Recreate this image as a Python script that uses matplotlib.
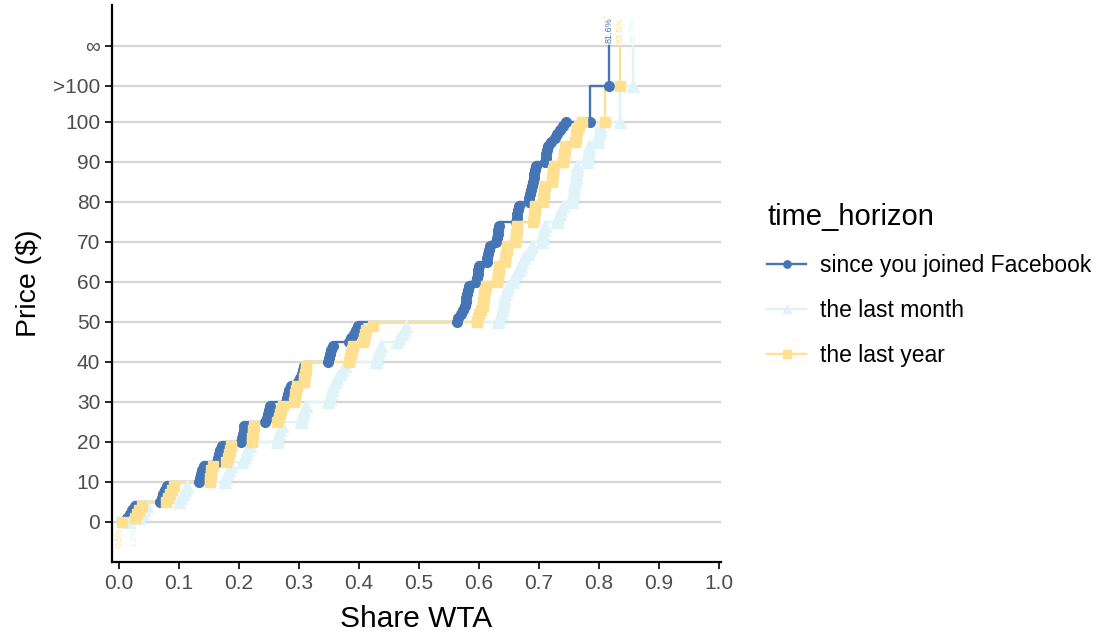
import matplotlib
matplotlib.use('Agg')
import matplotlib.pyplot as plt
from matplotlib.lines import Line2D

plt.rcParams['font.family'] = ['Liberation Sans', 'DejaVu Sans']

# y positions used for the two non-numeric price levels
GT100 = 109
INF = 119

y_ticks = [0, 10, 20, 30, 40, 50, 60, 70, 80, 90, 100, GT100, INF]
y_labels = ['0', '10', '20', '30', '40', '50', '60', '70', '80', '90', '100', '>100', '\u221e']
x_ticks = [0.0, 0.1, 0.2, 0.3, 0.4, 0.5, 0.6, 0.7, 0.8, 0.9, 1.0]

# price levels 0..100 (dollars)
prices = list(range(0, 101))

# share of respondents with WTA <= price
fb_share = [0.006,
            0.013, 0.018, 0.022, 0.026,
            0.068, 0.071, 0.074, 0.077, 0.080,
            0.133, 0.135, 0.137, 0.139, 0.141,
            0.163, 0.165, 0.167, 0.169, 0.171,
            0.203, 0.205, 0.206, 0.208, 0.209,
            0.244, 0.246, 0.248, 0.250, 0.252,
            0.278, 0.280, 0.282, 0.284, 0.286,
            0.299, 0.302, 0.305, 0.307, 0.309,
            0.348, 0.350, 0.352, 0.354, 0.356,
            0.383, 0.387, 0.391, 0.395, 0.399,
            0.563, 0.565, 0.570, 0.573, 0.576,
            0.578, 0.579, 0.580, 0.581, 0.583,
            0.595, 0.597, 0.598, 0.599, 0.600,
            0.613, 0.614, 0.615, 0.616, 0.618,
            0.628, 0.630, 0.631, 0.632, 0.633,
            0.662, 0.663, 0.664, 0.665, 0.666,
            0.683, 0.684, 0.685, 0.686, 0.688,
            0.690, 0.691, 0.692, 0.693, 0.695,
            0.710, 0.711, 0.712, 0.713, 0.715,
            0.720, 0.726, 0.730, 0.735, 0.740,
            0.745]

month_share = [0.016,
               0.033, 0.038, 0.042, 0.047,
               0.100, 0.103, 0.106, 0.110, 0.114,
               0.176, 0.178, 0.180, 0.183, 0.186,
               0.205, 0.208, 0.211, 0.214, 0.218,
               0.263, 0.265, 0.267, 0.269, 0.271,
               0.303, 0.305, 0.307, 0.309, 0.311,
               0.349, 0.351, 0.353, 0.355, 0.357,
               0.360, 0.364, 0.368, 0.372, 0.376,
               0.428, 0.430, 0.432, 0.434, 0.436,
               0.463, 0.467, 0.471, 0.475, 0.479,
               0.632, 0.634, 0.636, 0.638, 0.640,
               0.641, 0.642, 0.644, 0.646, 0.648,
               0.657, 0.659, 0.662, 0.667, 0.670,
               0.672, 0.675, 0.682, 0.685, 0.688,
               0.705, 0.706, 0.707, 0.709, 0.710,
               0.730, 0.732, 0.735, 0.737, 0.740,
               0.755, 0.756, 0.757, 0.758, 0.759,
               0.760, 0.761, 0.762, 0.763, 0.764,
               0.780, 0.781, 0.782, 0.783, 0.784,
               0.798, 0.799, 0.800, 0.801, 0.802,
               0.835]

year_share = [0.005,
              0.027, 0.030, 0.034, 0.038,
              0.079, 0.082, 0.085, 0.088, 0.091,
              0.151, 0.152, 0.153, 0.154, 0.156,
              0.179, 0.181, 0.183, 0.185, 0.187,
              0.221, 0.222, 0.223, 0.224, 0.225,
              0.264, 0.266, 0.268, 0.270, 0.273,
              0.292, 0.293, 0.294, 0.295, 0.296,
              0.308, 0.309, 0.310, 0.311, 0.312,
              0.384, 0.385, 0.387, 0.388, 0.390,
              0.407, 0.408, 0.410, 0.412, 0.423,
              0.597, 0.598, 0.600, 0.604, 0.606,
              0.607, 0.608, 0.609, 0.610, 0.611,
              0.630, 0.631, 0.632, 0.633, 0.634,
              0.643, 0.644, 0.645, 0.646, 0.647,
              0.660, 0.661, 0.662, 0.663, 0.664,
              0.690, 0.691, 0.692, 0.693, 0.694,
              0.706, 0.707, 0.708, 0.709, 0.710,
              0.721, 0.722, 0.723, 0.724, 0.725,
              0.740, 0.741, 0.742, 0.743, 0.744,
              0.760, 0.761, 0.762, 0.764, 0.766,
              0.772]

# extra points at the top (second 100 point and ">100")
fb_top_share = [0.785, 0.817]
fb_top_price = [100, GT100]
month_top_share = [0.857]
month_top_price = [GT100]
year_top_share = [0.810, 0.835]
year_top_price = [100, GT100]

# share at infinity (label at top) and labels at price 0 (bottom)
fb_inf, month_inf, year_inf = 0.817, 0.857, 0.835
fb_inf_lab, month_inf_lab, year_inf_lab = '81.6%', '85.7%', '83.5%'
month_zero_lab, year_zero_lab = '1.2%', '0.5%'

c_fb = '#4575b4'
c_month = '#e0f3f8'
c_year = '#fee090'

fig = plt.figure(figsize=(11.03, 6.39), dpi=100)
ax = fig.add_axes([0.1015, 0.1205, 0.552, 0.872])

series = [
    ('since you joined Facebook', fb_share, fb_top_share, fb_top_price, c_fb, 'o', 7.0, fb_inf, fb_inf_lab),
    ('the last month', month_share, month_top_share, month_top_price, c_month, '^', 8.5, month_inf, month_inf_lab),
    ('the last year', year_share, year_top_share, year_top_price, c_year, 's', 7.8, year_inf, year_inf_lab),
]

# lines first (all groups), then points, like ggplot layers
for name, sh, tsh, tpr, col, mk, ms, xinf, lab in series:
    xs = sh + tsh
    ys = prices + tpr
    ax.plot(xs, ys, drawstyle='steps-pre', color=col, lw=1.7, zorder=2)
    ax.plot([xinf, xinf], [GT100, INF], color=col, lw=1.7, zorder=2)

for i, (name, sh, tsh, tpr, col, mk, ms, xinf, lab) in enumerate(series):
    xs = sh + tsh
    ys = prices + tpr
    ax.plot(xs, ys, ls='none', marker=mk, ms=ms, color=col, mec=col, zorder=3 + i)
    ax.text(xinf, INF + 0.6, lab, rotation=90, ha='center', va='bottom',
            fontsize=6.5, color=col, zorder=6)

ax.text(month_share[0] + 0.002, -1.2, month_zero_lab, rotation=90, ha='left', va='top',
        fontsize=6.3, color=c_month)
ax.text(year_share[0] + 0.002, -1.2, year_zero_lab, rotation=90, ha='right', va='top',
        fontsize=6.3, color=c_year)

ax.set_xlim(-0.0117, 1.003)
ax.set_ylim(-10, 129.25)
ax.set_xticks(x_ticks)
ax.set_xticklabels(['%.1f' % t for t in x_ticks])
ax.set_yticks(y_ticks)
ax.set_yticklabels(y_labels)

ax.yaxis.grid(True, color='#d6d6d6', lw=1.6, zorder=0)
ax.xaxis.grid(False)
ax.set_axisbelow(True)
for s in ['top', 'right']:
    ax.spines[s].set_visible(False)
for s in ['left', 'bottom']:
    ax.spines[s].set_linewidth(1.6)
    ax.spines[s].set_color('black')
ax.tick_params(axis='both', direction='out', length=5, width=1.2, color='black',
               labelcolor='#4d4d4d', labelsize=15)

ax.set_xlabel('Share WTA', fontsize=21.5, labelpad=9)
ax.set_ylabel('Price ($)', fontsize=20.5, labelpad=8)

handles = [Line2D([], [], color=c, marker=m, ms=ms * 0.75, lw=1.7)
           for _, _, _, _, c, m, ms, _, _ in series]
names = [s[0] for s in series]
leg = fig.legend(handles, names, title='time_horizon', loc='upper left',
                 bbox_to_anchor=(756 / 1103, 1 - 192 / 639), frameon=False,
                 fontsize=16.5, title_fontsize=21, handlelength=1.7,
                 handletextpad=0.6, labelspacing=0.97, borderpad=0,
                 alignment='left')

fig.savefig('out.png', dpi=100)
